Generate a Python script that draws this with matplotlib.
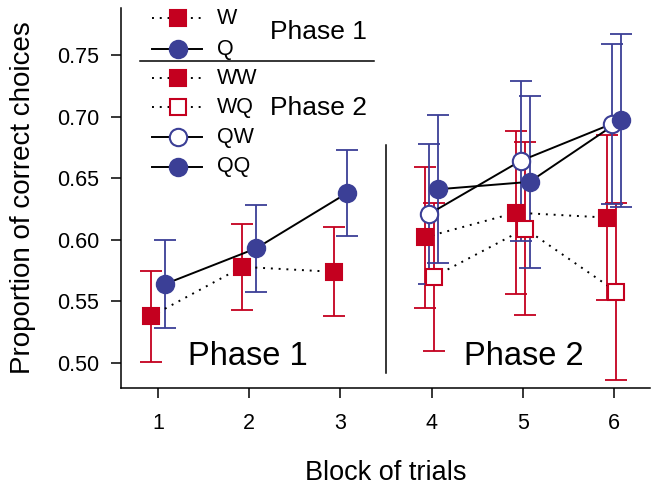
import numpy as np
import matplotlib
matplotlib.use("Agg")
import matplotlib.pyplot as plt
from matplotlib.lines import Line2D

plt.rcParams['font.family'] = ['Liberation Sans', 'DejaVu Sans']

# ---- data ----
blocks_p1 = np.array([1, 2, 3])
blocks_p2 = np.array([4, 5, 6])

W_mean = [0.538, 0.578, 0.574]
W_err = [0.037, 0.035, 0.036]
Q_mean = [0.564, 0.593, 0.638]
Q_err = [0.036, 0.035, 0.035]

WW_mean = [0.602, 0.622, 0.618]
WW_err = [0.057, 0.066, 0.067]
WQ_mean = [0.570, 0.609, 0.558]
WQ_err = [0.060, 0.070, 0.072]
QW_mean = [0.621, 0.664, 0.694]
QW_err = [0.057, 0.065, 0.065]
QQ_mean = [0.641, 0.647, 0.697]
QQ_err = [0.060, 0.070, 0.070]

yticks = [0.50, 0.55, 0.60, 0.65, 0.70, 0.75]
ytick_labels = ["0.50", "0.55", "0.60", "0.65", "0.70", "0.75"]
xticks = [1, 2, 3, 4, 5, 6]

RED = '#C4001F'
BLUE = '#3B3F96'

fig = plt.figure(figsize=(6.58, 4.92), dpi=100)
ax = fig.add_axes([121/658, 1-388/492, 529/658, 380/492])

def series(x, mean, err, color, marker, filled, ls, off):
    xs = x + off
    ax.errorbar(xs, mean, yerr=err, fmt='none', ecolor=color, elinewidth=1.3,
                capsize=8, capthick=1.3, zorder=2)
    ax.plot(xs, mean, color='black', ls=ls, lw=1.4, zorder=3)
    ax.plot(xs, mean, ls='none', marker=marker, ms=12.5 if marker == 'o' else 11.5,
            mfc=color if filled else 'white', mec=color, mew=1.5, zorder=4)

DOT = (0, (1, 3))
series(blocks_p1, W_mean, W_err, RED, 's', True, DOT, -0.075)
series(blocks_p1, Q_mean, Q_err, BLUE, 'o', True, '-', 0.075)
series(blocks_p2, WW_mean, WW_err, RED, 's', True, DOT, -0.075)
series(blocks_p2, WQ_mean, WQ_err, RED, 's', False, DOT, 0.025)
series(blocks_p2, QW_mean, QW_err, BLUE, 'o', False, '-', -0.025)
series(blocks_p2, QQ_mean, QQ_err, BLUE, 'o', True, '-', 0.075)

# separator between phases
ax.plot([3.5, 3.5], [0.492, 0.677], color='black', lw=1.1)

ax.text(1.99, 0.498, "Phase 1", fontsize=23.5, ha='center', va='baseline')
ax.text(5.01, 0.498, "Phase 2", fontsize=23.5, ha='center', va='baseline')

# legend (manual)
rows = [("W", RED, 's', True, DOT, 0.973),
        ("Q", BLUE, 'o', True, '-', 0.891),
        ("WW", RED, 's', True, DOT, 0.815),
        ("WQ", RED, 's', False, DOT, 0.7387),
        ("QW", BLUE, 'o', False, '-', 0.6597),
        ("QQ", BLUE, 'o', True, '-', 0.5824)]
for lab, col, mk, filled, ls, yy in rows:
    ax.add_line(Line2D([0.0586, 0.153], [yy, yy], transform=ax.transAxes,
                       color='black', ls=ls, lw=1.4, zorder=3))
    ax.add_line(Line2D([0.1078], [yy], transform=ax.transAxes, ls='none',
                       marker=mk, ms=12.5 if mk == 'o' else 11.5,
                       mfc=col if filled else 'white', mec=col, mew=1.5, zorder=4))
    ax.text(0.1815, yy, lab, transform=ax.transAxes, fontsize=15.5,
            ha='left', va='center')
ax.add_line(Line2D([0.0359, 0.478], [0.8605, 0.8605], transform=ax.transAxes,
                   color='black', lw=1.1))
ax.text(2.228, 0.763, "Phase 1", fontsize=19, ha='left', va='baseline')
ax.text(2.228, 0.701, "Phase 2", fontsize=19, ha='left', va='baseline')

ax.set_xlim(0.5943, 6.395)
ax.set_ylim(0.4797, 0.7881)
ax.set_xticks(xticks)
ax.set_xticklabels([str(t) for t in xticks])
ax.set_yticks(yticks)
ax.set_yticklabels(ytick_labels)
ax.spines['top'].set_visible(False)
ax.spines['right'].set_visible(False)
ax.spines['left'].set_linewidth(1.1)
ax.spines['bottom'].set_linewidth(1.1)
ax.tick_params(axis='both', labelsize=15.5, length=7.5, width=1.1, pad=8)
ax.tick_params(axis='x', pad=10.5)
ax.set_xlabel("Block of trials", fontsize=19.5, labelpad=19)
ax.set_ylabel("Proportion of correct choices", fontsize=20, labelpad=15)

fig.savefig("out.png", dpi=100)
